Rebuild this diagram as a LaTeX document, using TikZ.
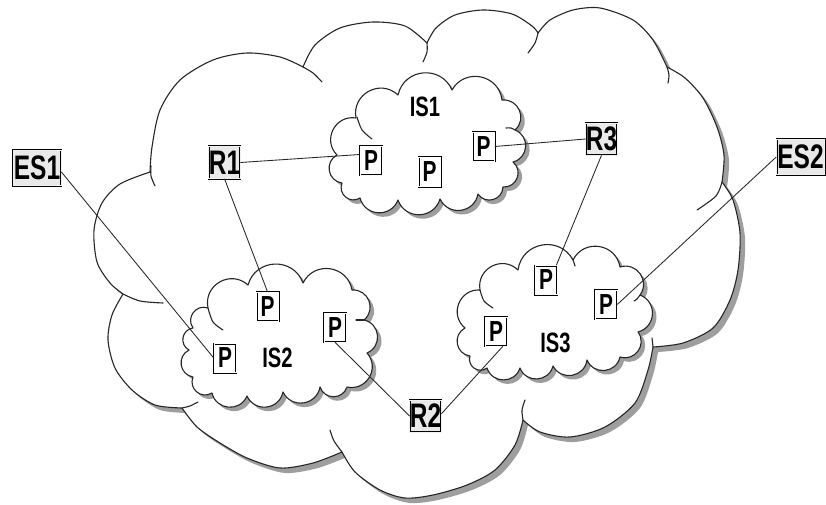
\documentclass[tikz,border=0pt]{standalone}
\usepackage{fontspec}
\newfontfamily\labfont{Liberation Sans}[UprightFont={* Bold}, FakeStretch=0.72]
\begin{document}
\begin{tikzpicture}[x=1pt,y=1pt,
 cl/.style={draw=black!85, line width=1.1pt, line join=round, line cap=round},
 curl/.style={draw=black!85, line width=1.1pt, line cap=round},
 shadowc/.style={fill=black!38},
 cbump/.style={bend left=72, looseness=1.3},
 conn/.style={draw=black!85, line width=0.85pt},
 pbox/.style={draw=black, fill=white, line width=0.55pt, double=white, double distance=0.9pt,
   minimum width=22pt, minimum height=29pt, inner sep=0pt,
   font=\labfont\fontsize{29}{29}\selectfont},
 rbox/.style={pbox, double=gray!12, fill=gray!17, minimum width=31pt, minimum height=32pt,
   font=\labfont\fontsize{34}{34}\selectfont},
 esbox/.style={rbox, minimum width=48pt, minimum height=35pt},
 islab/.style={inner sep=0pt, font=\labfont\fontsize{28}{28}\selectfont}
]
\useasboundingbox (0,0) rectangle (826,-505);
\fill[white] (0,0) rectangle (826,-505);

\def\bigcloud{plot[smooth] coordinates {(123,-294) (110,-283) (97,-262) (94,-230) (102,-203) (120,-184) (150,-172)}
 -- plot[smooth] coordinates {(150,-172) (152,-147) (160,-110) (180,-80) (213,-60) (247,-53) (280,-57) (303,-67)}
 -- plot[smooth] coordinates {(303,-67) (315,-45) (340,-28) (373,-22) (405,-26) (427,-43)}
 -- plot[smooth] coordinates {(427,-43) (436,-28) (455,-15) (483,-10) (512,-14) (532,-26) (538,-33)}
 -- plot[smooth] coordinates {(538,-33) (550,-20) (573,-10) (600,-8) (633,-20) (653,-40) (667,-67)}
 -- plot[smooth] coordinates {(667,-67) (685,-78) (703,-98) (717,-127) (724,-155) (722,-182)}
 -- plot[smooth] coordinates {(722,-182) (733,-200) (740,-233) (738,-270) (730,-300) (713,-328) (683,-343) (653,-347)}
 -- plot[smooth] coordinates {(653,-347) (648,-370) (635,-403) (605,-427) (570,-437) (540,-432) (523,-420)}
 -- plot[smooth] coordinates {(523,-420) (515,-445) (495,-470) (467,-485) (433,-495) (405,-498) (380,-490) (355,-472) (342,-452)}
 -- plot[smooth] coordinates {(342,-452) (313,-463) (280,-468) (247,-458) (220,-443) (197,-427) (182,-408)}
 -- plot[smooth] coordinates {(182,-408) (155,-405) (132,-390) (115,-368) (108,-340) (112,-315) (123,-294)}
 -- cycle}

\def\isone{(356,-118) to[cbump] (398,-95) to[cbump] (452,-90) to[cbump] (502,-100) to[cbump] (515,-130)
 to[cbump] (513,-162) to[cbump] (503,-187) to[cbump] (478,-194) to[cbump] (440,-199) to[cbump] (398,-200)
 to[cbump] (360,-198) to[cbump] (342,-183) to[cbump] (337,-155) to[cbump] (356,-118) -- cycle}

\def\istwo{(208,-308) to[cbump] (248,-285) to[cbump] (303,-283) to[cbump] (352,-290) to[cbump] (364,-320)
 to[cbump] (367,-353) to[cbump] (347,-387) to[cbump] (320,-387) to[cbump] (283,-392) to[cbump] (247,-396)
 to[cbump] (212,-393) to[cbump] (193,-377) to[cbump] (189,-350) to[cbump] (193,-328) to[cbump] (208,-308) -- cycle}

\def\isthree{(480,-290) to[cbump] (518,-270) to[cbump] (573,-260) to[cbump] (620,-267) to[cbump] (640,-295)
 to[cbump] (638,-332) to[cbump] (620,-357) to[cbump] (587,-360) to[cbump] (553,-366) to[cbump] (520,-368)
 to[cbump] (487,-368) to[cbump] (470,-356) to[cbump] (465,-328) to[cbump] (480,-290) -- cycle}

% big cloud
\fill[shadowc, shift={(5,-5)}] \bigcloud;
\draw[cl, fill=white] \bigcloud;
\draw[curl] plot[smooth] coordinates {(151,-166) (151,-176) (155,-186)};
\draw[curl] plot[smooth] coordinates {(303,-67) (313,-73) (322,-82)};
\draw[curl] plot[smooth] coordinates {(427,-43) (427,-52) (423,-62)};
\draw[curl] plot[smooth] coordinates {(538,-33) (535,-43) (528,-53)};
\draw[curl] plot[smooth] coordinates {(667,-67) (669,-75) (668,-83)};
\draw[curl] plot[smooth] coordinates {(722,-182) (716,-196) (697,-210)};
\draw[curl] plot[smooth] coordinates {(653,-347) (652,-338)};
\draw[curl] plot[smooth] coordinates {(523,-420) (522,-410) (525,-400)};
\draw[curl] plot[smooth] coordinates {(342,-452) (334,-441) (330,-430)};
\draw[curl] plot[smooth] coordinates {(182,-408) (190,-406) (198,-402)};
\draw[curl] plot[smooth] coordinates {(123,-294) (140,-301) (163,-303)};

% small clouds
\fill[shadowc, shift={(4,-4)}] \isone;
\draw[cl, fill=white] \isone;
\draw[curl] plot[smooth] coordinates {(357,-117) (362,-130) (372,-139)};
\draw[curl] plot[smooth] coordinates {(515,-130) (511,-128) (506,-128)};

\fill[shadowc, shift={(4,-4)}] \istwo;
\draw[cl, fill=white] \istwo;
\draw[curl] plot[smooth] coordinates {(208,-308) (213,-322) (223,-330)};
\draw[curl] plot[smooth] coordinates {(364,-320) (360,-320) (356,-320)};

\fill[shadowc, shift={(4,-4)}] \isthree;
\draw[cl, fill=white] \isthree;
\draw[curl] plot[smooth] coordinates {(480,-290) (484,-301) (493,-308)};
\draw[curl] plot[smooth] coordinates {(573,-260) (575,-266)};
\draw[curl] plot[smooth] coordinates {(640,-295) (637,-299) (634,-301)};

% labels
\node[islab] (is1) at (425,-106.5) {IS1};
\node[islab] (is2) at (277.5,-358) {IS2};
\node[islab] (is3) at (555.5,-342.5) {IS3};

% boxes
\node[pbox] (p1a) at (371,-160.5) {P};
\node[pbox] (p1b) at (429.5,-172) {P};
\node[pbox] (p1c) at (483.5,-146.5) {P};
\node[pbox] (p2a) at (267.5,-306.5) {P};
\node[pbox] (p2b) at (225,-358) {P};
\node[pbox] (p2c) at (335,-327.5) {P};
\node[pbox] (p3a) at (546,-280) {P};
\node[pbox] (p3b) at (606,-304.5) {P};
\node[pbox] (p3c) at (496,-331.5) {P};
\node[rbox] (r1) at (224.5,-162.5) {R1};
\node[rbox] (r2) at (425.5,-416) {R2};
\node[rbox] (r3) at (601.5,-139) {R3};
\node[esbox] (es1) at (37,-168) {ES1};
\node[esbox] (es2) at (800.5,-157) {ES2};

% connectors
\draw[conn] (r1.east) -- (p1a.152);
\draw[conn] (r1.south) -- (p2a.north);
\draw[conn] (es1.-9) -- (p2b.west);
\draw[conn] (p1c.east) -- (r3.west);
\draw[conn] (r3.south) -- (p3a.55);
\draw[conn] (es2.west) -- (p3b.east);
\draw[conn] (p2c.south) -- (r2.west);
\draw[conn] (r2.8) -- (p3c.-65);
\end{tikzpicture}
\end{document}
